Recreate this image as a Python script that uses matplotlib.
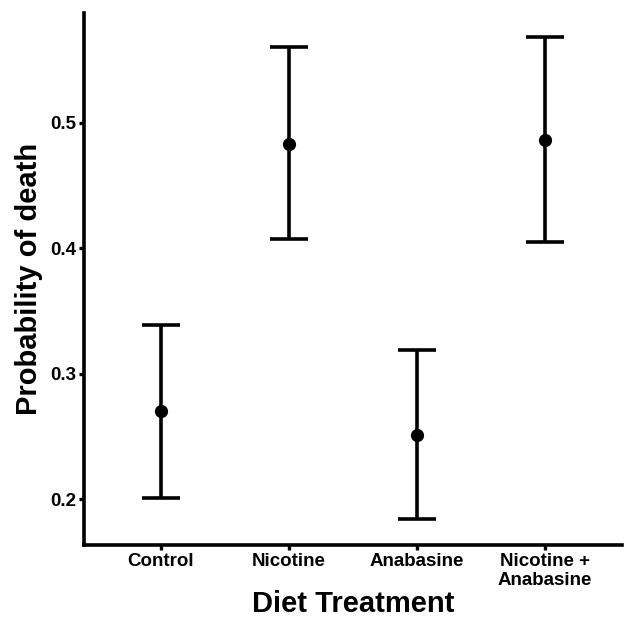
import matplotlib
matplotlib.use("Agg")
import matplotlib.pyplot as plt
import numpy as np

categories = ["Control", "Nicotine", "Anabasine", "Nicotine +\nAnabasine"]
prob = [0.270, 0.483, 0.251, 0.486]
lower = [0.201, 0.407, 0.184, 0.405]
upper = [0.339, 0.560, 0.319, 0.568]
yticks = [0.2, 0.3, 0.4, 0.5]

plt.rcParams['font.family'] = ['Liberation Sans', 'DejaVu Sans']

fig = plt.figure(figsize=(6.24, 6.18), dpi=100)
ax = fig.add_axes([84/624, (618-545)/618, (622-84)/624, (545-13)/618])

x = np.arange(len(categories))
p = np.array(prob)
yerr = [p - np.array(lower), np.array(upper) - p]
ax.errorbar(x, p, yerr=yerr, fmt='o', color='black', ms=8.5, elinewidth=2.6,
            capsize=14, capthick=2.6)

ax.set_xlim(-0.6, 3.6)
ax.set_ylim(0.1634, 0.5873)
ax.set_xticks(x)
ax.set_xticklabels(categories, fontsize=13.5, fontweight='bold', linespacing=1.15)
ax.set_yticks(yticks)
ax.set_yticklabels([f"{v:.1f}" for v in yticks], fontsize=13.5, fontweight='bold')
for s in ['top', 'right']:
    ax.spines[s].set_visible(False)
for s in ['left', 'bottom']:
    ax.spines[s].set_linewidth(2.6)
ax.tick_params(width=2.4, length=3.5, pad=2)
ax.set_xlabel("Diet Treatment", fontsize=21, fontweight='bold', labelpad=1)
ax.set_ylabel("Probability of death", fontsize=21, fontweight='bold', labelpad=5)

fig.savefig("out.png", dpi=100)
